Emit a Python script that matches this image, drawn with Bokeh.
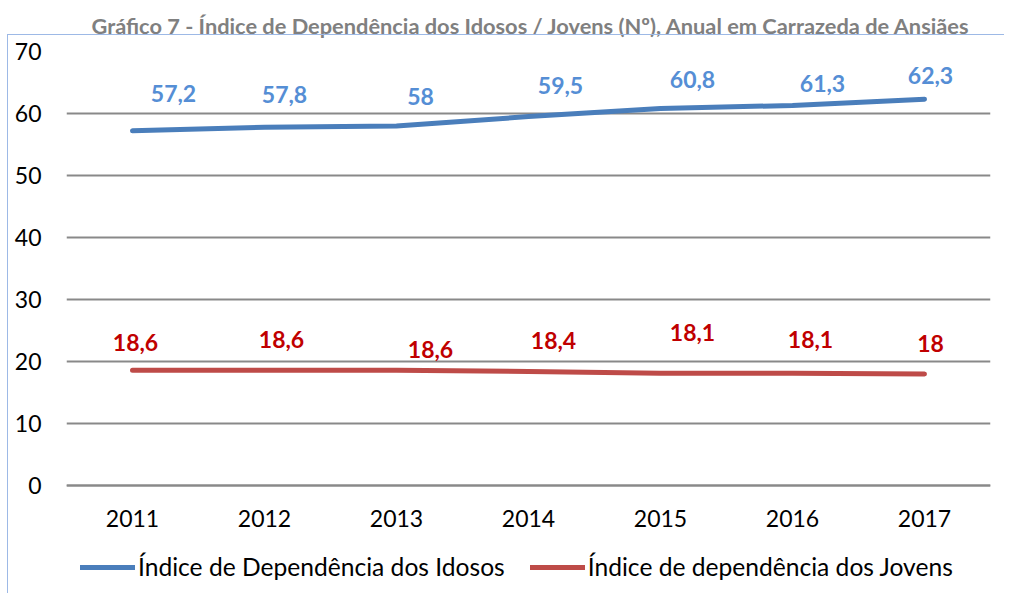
from bokeh.plotting import figure
from bokeh.models import (ColumnDataSource, Range1d, Legend, LegendItem,
                          FixedTicker, InlineStyleSheet)
from bokeh.core.properties import value
from bokeh.embed import file_html
from bokeh.resources import INLINE

# ---- data ----
years = ["2011", "2012", "2013", "2014", "2015", "2016", "2017"]
idosos = [57.2, 57.8, 58.0, 59.5, 60.8, 61.3, 62.3]
jovens = [18.6, 18.6, 18.6, 18.4, 18.1, 18.1, 18.0]
idosos_labels = ["57,2", "57,8", "58", "59,5", "60,8", "61,3", "62,3"]
jovens_labels = ["18,6", "18,6", "18,6", "18,4", "18,1", "18,1", "18"]
y_ticks = [0, 10, 20, 30, 40, 50, 60, 70]
series_names = ["Índice de Dependência dos Idosos", "Índice de dependência dos Jovens"]
title_text = "Gráfico 7 - Índice de Dependência dos Idosos / Jovens (Nº), Anual em Carrazeda de Ansiães"

# ---- label placement (screen px, layout only) ----
idosos_dx = [41, 20, 24, 32, 32, 30, 6]
idosos_dy = [-37, -33, -29, -31, -29, -22, -24]
jovens_dx = [3, 17, 34, 25, 32, 18, 6]
jovens_dy = [-28, -31, -21, -31, -41, -34, -30]

FONT = "Lato"
BLUE_LINE = "#4A7EBB"
BLUE_TXT = "#558ED5"
RED_LINE = "#BE4B48"
RED_TXT = "#C00000"
GRID = "#898989"

# the frame runs below the 0 line so that the legend can sit inside it
PX_PER_UNIT = 434 / 70
BELOW_PX = 108
p = figure(x_range=years, y_range=Range1d(-BELOW_PX / PX_PER_UNIT, 70),
           frame_width=924, frame_height=434 + BELOW_PX,
           output_backend="svg", toolbar_location=None,
           min_border_left=66, min_border_right=14, min_border_top=0,
           min_border_bottom=0)
p.outline_line_color = None
p.background_fill_color = "white"

p.title.text = title_text
p.title.text_font = FONT
p.title.text_font_size = "21.8px"
p.title.text_font_style = "bold"
p.title.text_color = "#808080"
p.title.align = "left"
p.title.offset = 25
p.title.vertical_align = "top"
p.title.standoff = 22

# axes
p.yaxis.ticker = FixedTicker(ticks=y_ticks)
p.yaxis.axis_line_color = None
p.yaxis.major_tick_line_color = None
p.yaxis.major_tick_out = 0
p.yaxis.major_tick_in = 0
p.yaxis.minor_tick_line_color = None
p.yaxis.major_label_standoff = 25
p.yaxis.major_label_text_font = FONT
p.yaxis.major_label_text_font_size = "23px"
p.yaxis.major_label_text_color = "black"

p.xaxis.fixed_location = 0
p.xaxis.axis_line_color = GRID
p.xaxis.axis_line_width = 2
p.xaxis.major_tick_line_color = None
p.xaxis.major_tick_out = 0
p.xaxis.major_tick_in = 0
p.xaxis.minor_tick_line_color = None
p.xaxis.major_label_standoff = 24
p.xaxis.major_label_text_font = FONT
p.xaxis.major_label_text_font_size = "23px"
p.xaxis.major_label_text_color = "black"

p.xgrid.grid_line_color = None
p.ygrid.ticker = FixedTicker(ticks=y_ticks)
p.ygrid.grid_line_color = GRID
p.ygrid.grid_line_width = 2

src = ColumnDataSource(dict(x=years, idosos=idosos, jovens=jovens,
                            il=idosos_labels, jl=jovens_labels,
                            idx=idosos_dx, idy=idosos_dy,
                            jdx=jovens_dx, jdy=jovens_dy))

r1 = p.line("x", "idosos", source=src, line_color=BLUE_LINE, line_width=5,
            line_cap="round", line_join="round")
r2 = p.line("x", "jovens", source=src, line_color=RED_LINE, line_width=5,
            line_cap="round", line_join="round")

p.text("x", "idosos", text="il", source=src, x_offset="idx", y_offset="idy",
       text_font=value(FONT), text_font_size="23px", text_font_style="bold",
       text_color=BLUE_TXT, text_align="center", text_baseline="middle")
p.text("x", "jovens", text="jl", source=src, x_offset="jdx", y_offset="jdy",
       text_font=value(FONT), text_font_size="23px", text_font_style="bold",
       text_color=RED_TXT, text_align="center", text_baseline="middle")

legend = Legend(items=[LegendItem(label=series_names[0], renderers=[r1]),
                       LegendItem(label=series_names[1], renderers=[r2])],
                orientation="horizontal", location=(14, 12),
                label_text_font=FONT, label_text_font_size="24.6px",
                label_text_color="black",
                glyph_width=55, label_standoff=3, spacing=25,
                border_line_color=None, background_fill_alpha=0,
                padding=0, margin=0)
p.add_layout(legend)

# chart border (left & top only; the rest runs off the picture)
p.stylesheets = [InlineStyleSheet(css="""
:host { position: relative; }
:host::after {
  content: ""; position: absolute; left: 7px; top: 34px;
  width: calc(100% - 7px); height: calc(100% - 34px);
  border-left: 1.5px solid #9DB9E6; border-top: 1.5px solid #9DB9E6;
  pointer-events: none; box-sizing: border-box;
}
""")]

open("out.html", "w").write(file_html(p, INLINE))
